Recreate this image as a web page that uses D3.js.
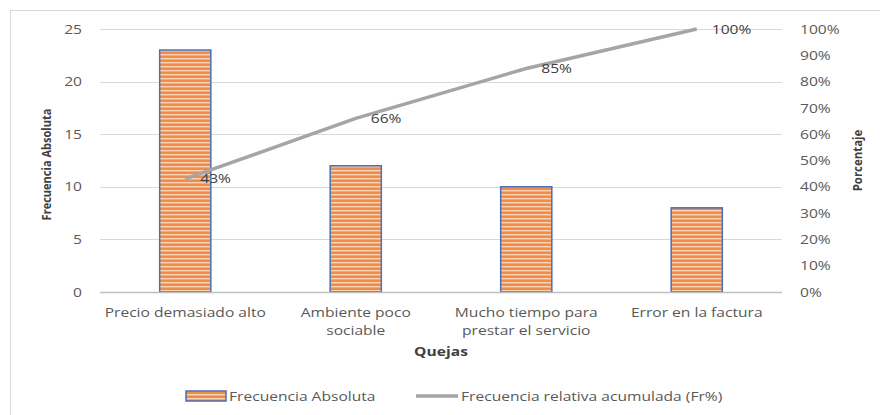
<!DOCTYPE html>
<html>
<head>
<meta charset="utf-8">
<script src="https://cdn.jsdelivr.net/npm/d3@7"></script>
<style>
  html, body { margin: 0; padding: 0; background: #fff; }
  svg { display: block; }
  text { font-family: "Open Sans", "DejaVu Sans", sans-serif; }
</style>
</head>
<body>
<svg id="chart" width="880" height="415"></svg>
<script>
// Quejas de clientes: frecuencia absoluta y porcentaje acumulado (Pareto)
const categories = [
  ["Precio demasiado alto"],
  ["Ambiente poco", "sociable"],
  ["Mucho tiempo para", "prestar el servicio"],
  ["Error en la factura"]
];
const categoryNames = ["Precio demasiado alto", "Ambiente poco sociable", "Mucho tiempo para prestar el servicio", "Error en la factura"];
const frecuencia = [23, 12, 10, 8];
const acumulado = [0.43, 0.66, 0.85, 1.00];
const acumuladoLabels = ["43%", "66%", "85%", "100%"];
const leftTicks = [0, 5, 10, 15, 20, 25];
const rightTicks = [0, 0.1, 0.2, 0.3, 0.4, 0.5, 0.6, 0.7, 0.8, 0.9, 1.0];

const svg = d3.select("#chart");
const plot = { left: 100, right: 782, top: 29, bottom: 292 };
const SX = 1.2; // horizontal widening of the label typeface

// text helper: places a horizontally widened label at (x, y)
function label(parent, x, y, lines, opts = {}) {
  const g = parent.append("g").attr("transform", `translate(${x},${y}) scale(${SX},1)`);
  const t = g.append("text")
    .attr("text-anchor", opts.anchor || "start")
    .attr("fill", opts.fill || "#595959")
    .attr("font-size", opts.size || 13)
    .attr("font-weight", opts.weight || "normal");
  if (opts.dy) t.attr("dy", opts.dy);
  [].concat(lines).forEach((ln, j) => {
    t.append("tspan").attr("x", 0).attr("dy", j === 0 ? (opts.dy || 0) : 18).text(ln);
  });
  return t;
}

// chart frame
svg.append("rect")
  .attr("x", 10.5).attr("y", 10.5)
  .attr("width", 900).attr("height", 420)
  .attr("fill", "#fff").attr("stroke", "#d9d9d9").attr("stroke-width", 1);

const defs = svg.append("defs");
const pat = defs.append("pattern")
  .attr("id", "stripes").attr("patternUnits", "userSpaceOnUse")
  .attr("width", 8).attr("height", 4);
pat.append("rect").attr("width", 8).attr("height", 4).attr("fill", "#f08c4a");
pat.append("rect").attr("y", 2).attr("width", 8).attr("height", 1).attr("fill", "#fbd3b5");
pat.append("rect").attr("y", 3).attr("width", 8).attr("height", 1).attr("fill", "#f5aa76");

const x = d3.scaleBand().domain(categoryNames).range([plot.left, plot.right]).paddingInner(0).paddingOuter(0);
const y = d3.scaleLinear().domain([0, 25]).range([plot.bottom, plot.top]);
const yR = d3.scaleLinear().domain([0, 1]).range([plot.bottom, plot.top]);

// gridlines
svg.append("g")
  .selectAll("line").data(leftTicks.filter(d => d > 0)).join("line")
  .attr("x1", plot.left).attr("x2", plot.right)
  .attr("y1", d => Math.round(y(d)) + 0.5).attr("y2", d => Math.round(y(d)) + 0.5)
  .attr("stroke", "#d9d9d9").attr("stroke-width", 1);

// left axis labels
const leftAxis = svg.append("g").attr("transform", `translate(${plot.left - 18},0)`)
  .call(d3.axisLeft(y).tickValues(leftTicks).tickSize(0).tickPadding(0));
leftAxis.select(".domain").remove();
leftAxis.selectAll("text").attr("fill", "#595959").attr("font-size", 13)
  .attr("transform", `scale(${SX},1)`)
  .style("font-family", "'Open Sans', sans-serif");

// right axis labels
const rightAxis = svg.append("g").attr("transform", `translate(${plot.right + 18},0)`)
  .call(d3.axisRight(yR).tickValues(rightTicks).tickFormat(d3.format(".0%")).tickSize(0).tickPadding(0));
rightAxis.select(".domain").remove();
rightAxis.selectAll("text").attr("fill", "#595959").attr("font-size", 13)
  .attr("transform", `scale(${SX},1)`)
  .style("font-family", "'Open Sans', sans-serif");

// bars
const barW = x.bandwidth() * 0.3;
svg.append("g").selectAll("rect").data(frecuencia).join("rect")
  .attr("x", (d, i) => x(categoryNames[i]) + (x.bandwidth() - barW) / 2)
  .attr("y", d => y(d))
  .attr("width", barW)
  .attr("height", d => y(0) - y(d))
  .attr("fill", "url(#stripes)")
  .attr("stroke", "#4a6fb5").attr("stroke-width", 1.5);

// category axis line
svg.append("line")
  .attr("x1", plot.left).attr("x2", plot.right)
  .attr("y1", plot.bottom + 0.5).attr("y2", plot.bottom + 0.5)
  .attr("stroke", "#bfbfbf").attr("stroke-width", 1.5);

// category labels
const catG = svg.append("g");
categories.forEach((lines, i) => {
  label(catG, x(categoryNames[i]) + x.bandwidth() / 2, 317, lines, { anchor: "middle" });
});

// cumulative line
const cx = (d, i) => x(categoryNames[i]) + x.bandwidth() / 2;
const line = d3.line().x((d, i) => cx(d, i)).y(d => yR(d));
svg.append("path").datum(acumulado)
  .attr("d", line)
  .attr("fill", "none").attr("stroke", "#a5a5a5").attr("stroke-width", 3.5)
  .attr("stroke-linejoin", "round");

// data labels
const dl = svg.append("g");
acumulado.forEach((d, i) => {
  label(dl, cx(d, i) + 15, yR(d), acumuladoLabels[i], { fill: "#404040", dy: "0.35em" });
});

// axis titles (narrowed along the reading direction)
svg.append("text")
  .attr("transform", `translate(46,${(plot.top + plot.bottom) / 2 + 4}) rotate(-90) scale(0.85,1)`)
  .attr("text-anchor", "middle")
  .attr("fill", "#404040").attr("font-size", 13).attr("font-weight", "bold")
  .attr("dy", "0.35em")
  .text("Frecuencia Absoluta");

svg.append("text")
  .attr("transform", `translate(857,${(plot.top + plot.bottom) / 2}) rotate(-90) scale(0.88,1)`)
  .attr("text-anchor", "middle")
  .attr("fill", "#404040").attr("font-size", 13).attr("font-weight", "bold")
  .attr("dy", "0.35em")
  .text("Porcentaje");

label(svg, (plot.left + plot.right) / 2, 356, "Quejas", { anchor: "middle", fill: "#404040", weight: "bold" });

// legend
const lg = svg.append("g");
lg.append("rect").attr("x", 186).attr("y", 391).attr("width", 40).attr("height", 10)
  .attr("fill", "url(#stripes)").attr("stroke", "#4a6fb5").attr("stroke-width", 1.5);
label(lg, 229, 396, "Frecuencia Absoluta", { dy: "0.35em" });
lg.append("line").attr("x1", 416).attr("x2", 458).attr("y1", 396).attr("y2", 396)
  .attr("stroke", "#a5a5a5").attr("stroke-width", 3.5);
label(lg, 461, 396, "Frecuencia relativa acumulada (Fr%)", { dy: "0.35em" });
</script>
</body>
</html>
